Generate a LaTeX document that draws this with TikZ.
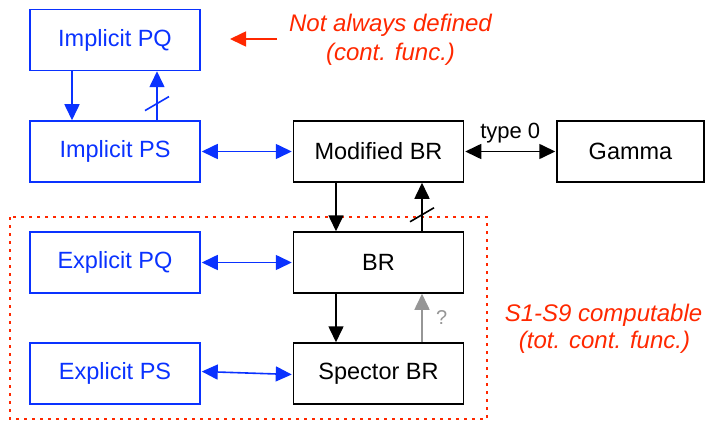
\documentclass[tikz,border=0pt]{standalone}
\usepackage{fontspec}
\setmainfont{Liberation Sans}
\usetikzlibrary{arrows.meta}
\definecolor{cblue}{RGB}{10,50,255}
\definecolor{cred}{RGB}{255,40,0}
\definecolor{cgray}{RGB}{150,150,150}
\begin{document}
\begin{tikzpicture}[x=1pt,y=-1pt,
  box/.style={draw,line width=1.5pt,rectangle,minimum width=170pt,minimum height=61pt,inner sep=0pt,font=\fontsize{23.5}{28}\selectfont},
  bbox/.style={box,draw=cblue,text=cblue},
  kbox/.style={box,draw=black,text=black},
  tip/.style={-{Triangle[length=16pt,width=15pt]}},
  dtip/.style={{Triangle[length=16pt,width=15pt]}-{Triangle[length=16pt,width=15pt]}},
  conn/.style={line width=1.6pt},
  redtxt/.style={text=cred,font=\fontsize{24}{28}\selectfont\itshape,anchor=base,inner sep=0pt}]
\useasboundingbox (0,0) rectangle (706,422);
% nodes
\node[bbox] (ipq) at (115,40) {Implicit PQ};
\node[bbox] (ips) at (115,151.5) {Implicit PS};
\node[kbox] (mbr) at (378.5,151.5) {Modified BR};
\node[kbox,minimum width=147pt] (gam) at (630.5,151.5) {Gamma};
\node[kbox] (br) at (378.5,262.5) {BR};
\node[kbox] (sbr) at (378.5,373.5) {Spector BR};
\node[bbox] (epq) at (115,262.5) {Explicit PQ};
\node[bbox] (eps) at (115,373.5) {Explicit PS};
% dotted region
\draw[cred,line width=1.5pt,dash pattern=on 3pt off 5pt] (10,217) rectangle (487,419);
% texts
\node[redtxt] (nad1) at (390.5,32) {Not always defined};
\node[redtxt] (nad2) at (390.5,61) {(cont. func.)};
\node[redtxt] (s191) at (603.5,321) {S1-S9 computable};
\node[redtxt] (s192) at (604.5,348) {(tot. cont. func.)};
\coordinate (rstart) at (277,39);
\coordinate (rend) at (230,39);
\draw[conn,cred,tip] (rstart) -- (rend);
% blue connectors
\draw[conn,cblue,tip] ([xshift=-43pt]ipq.south) -- ([xshift=-43pt]ips.north);
\draw[conn,cblue,tip] ([xshift=42pt]ips.north) -- coordinate[pos=0.34] (s1) ([xshift=42pt]ipq.south);
\draw[conn,cblue] ([shift={(-12,7)}]s1) -- ([shift={(12,-7)}]s1);
\draw[conn,cblue,dtip] ([xshift=1pt]ips.east) -- ([xshift=-1pt]mbr.west);
\draw[conn,cblue,dtip] ([xshift=1pt]epq.east) -- ([xshift=-1pt]br.west);
\draw[conn,cblue,dtip] ([xshift=1pt,yshift=2pt]eps.east) -- ([xshift=-1pt,yshift=-1pt]sbr.west);
% black connectors
\draw[conn,dtip] ([xshift=1pt]mbr.east) -- node[above=4pt,font=\fontsize{22}{24}\selectfont] (t0) {type 0} ([xshift=-1pt]gam.west);
\draw[conn,tip] ([xshift=-42.5pt]mbr.south) -- ([xshift=-42.5pt]br.north);
\draw[conn,tip] ([xshift=43.5pt]br.north) -- coordinate[pos=0.34] (s2) ([xshift=43.5pt]mbr.south);
\draw[conn] ([shift={(-12,7)}]s2) -- ([shift={(12,-7)}]s2);
\draw[conn,tip] ([xshift=-42.5pt]br.south) -- ([xshift=-42.5pt]sbr.north);
\draw[conn,cgray,tip] ([xshift=43.5pt]sbr.north) -- node[pos=0.5,right=10pt,text=cgray,font=\fontsize{20}{22}\selectfont] (q) {?} ([xshift=43.5pt]br.south);
\end{tikzpicture}
\end{document}
